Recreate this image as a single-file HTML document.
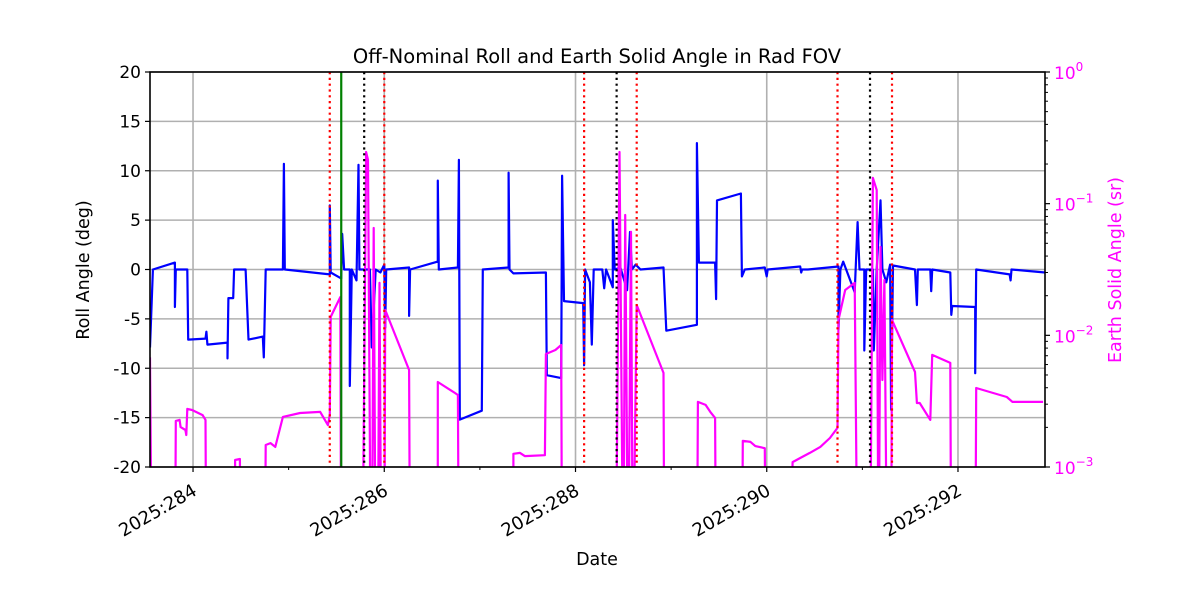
<!DOCTYPE html>
<html><head><meta charset="utf-8"><style>
body{margin:0;background:#fff;}
svg text{font-family:"DejaVu Sans","Liberation Sans",sans-serif;}
</style></head><body>
<svg id="chart" width="1200" height="600" xmlns="http://www.w3.org/2000/svg"></svg>
<script>
const rollDays=[283.55,283.58,283.81,283.81,283.82,283.94,283.95,284.13,284.14,284.15,284.36,284.36,284.37,284.42,284.43,284.55,284.58,284.73,284.74,284.76,284.94,284.95,284.96,285.43,285.43,285.44,285.55,285.56,285.58,285.64,285.64,285.66,285.71,285.73,285.74,285.85,285.87,285.91,285.96,286.00,286.01,286.02,286.26,286.26,286.27,286.56,286.56,286.57,286.77,286.78,286.79,287.02,287.03,287.30,287.30,287.31,287.35,287.69,287.70,287.85,287.86,287.88,288.08,288.09,288.10,288.15,288.17,288.19,288.28,288.30,288.32,288.39,288.39,288.41,288.47,288.54,288.57,288.59,288.63,288.68,288.92,288.95,289.27,289.27,289.29,289.46,289.47,289.48,289.73,289.74,289.77,289.98,290.00,290.01,290.35,290.36,290.37,290.43,290.75,290.75,290.77,290.80,290.92,290.95,290.97,291.02,291.02,291.04,291.11,291.12,291.15,291.19,291.21,291.25,291.29,291.30,291.32,291.55,291.57,291.58,291.71,291.72,291.73,291.92,291.93,291.94,292.18,292.18,292.19,292.54,292.55,292.56,292.91];
const rollDeg=[-7.9,0,0.7,-3.8,0,0,-7.1,-7.0,-6.3,-7.6,-7.4,-9.0,-2.9,-2.9,0,0,-7.1,-6.8,-8.9,0,0,10.7,0,-0.5,6.5,-0.3,-0.9,3.6,0,0,-11.8,0,-1.1,10.6,0,0,-7.9,0,-0.3,0.5,-5.9,0,0.2,-4.7,0,0.8,9.0,0,0.2,11.1,-15.2,-14.3,0,0.2,9.8,0,-0.4,-0.3,-10.7,-11.0,9.5,-3.2,-3.4,-9.7,0,-1.3,-7.6,0,0,-1.9,0,-1.8,5.0,0,0.2,-2.1,3.8,0,0.5,0,0.2,-6.2,-5.6,12.8,0.7,0.7,-3.0,7.0,7.7,-0.7,0,0.2,-0.7,0,0.3,-0.3,0,0,0.3,-6.1,0,0.8,-2.3,4.8,0,0,-8.2,0,0,-8.2,0,7.0,0,-1.3,0.5,-14.2,0.4,0,-3.6,0,0,-2.2,0,-0.3,-4.6,-3.7,-3.8,-10.5,0,-0.5,-1.1,0,-0.3];
const earthDays=[283.55,283.57,283.81,283.82,283.86,283.87,283.92,283.93,283.94,283.99,284.10,284.13,284.14,284.44,284.44,284.49,284.50,284.75,284.76,284.81,284.86,284.94,285.12,285.33,285.41,285.43,285.44,285.54,285.55,285.77,285.81,285.83,285.86,285.87,285.89,285.91,285.93,285.95,285.97,286.00,286.01,286.26,286.27,286.56,286.56,286.69,286.74,286.77,286.78,287.35,287.35,287.42,287.47,287.68,287.69,287.79,287.85,287.86,288.42,288.46,288.50,288.52,288.55,288.58,288.60,288.64,288.92,288.93,289.27,289.28,289.36,289.41,289.46,289.47,289.74,289.75,289.83,289.88,289.98,289.99,290.24,290.27,290.35,290.45,290.56,290.66,290.74,290.75,290.82,290.92,290.95,291.08,291.11,291.15,291.17,291.19,291.21,291.23,291.26,291.30,291.31,291.55,291.57,291.60,291.71,291.73,291.92,291.93,292.18,292.19,292.51,292.57,292.89];
const earthSr=[0.0068,1e-4,1e-4,0.00224,0.00228,0.00201,0.00191,0.00175,0.00276,0.00271,0.00248,0.00228,1e-4,1e-4,0.00113,0.00115,1e-4,1e-4,0.00147,0.00152,0.00142,0.0024,0.00257,0.00262,0.00208,0.00248,0.0138,0.0195,1e-4,1e-4,0.247,0.215,1e-4,1e-4,0.0653,1e-4,1e-4,0.025,1e-4,1e-4,0.0156,0.00545,1e-4,1e-4,0.00442,0.00385,0.00365,0.00352,1e-4,1e-4,0.00126,0.00128,0.00121,0.00123,0.00722,0.00774,0.00845,1e-4,1e-4,0.247,1e-4,0.082,1e-4,0.061,1e-4,0.017,0.00518,1e-4,1e-4,0.00312,0.00296,0.00262,0.00236,1e-4,1e-4,0.00158,0.00155,0.00144,0.00139,1e-4,1e-4,0.00109,0.00117,0.00128,0.00142,0.00166,0.00198,0.0131,0.0221,0.025,1e-4,1e-4,0.157,0.127,1e-4,0.0469,0.00458,0.0263,1e-4,1e-4,0.0131,0.00527,0.00306,0.00306,0.00228,0.0071,0.00617,1e-4,1e-4,0.00398,0.0034,0.00312,0.00312];
const redLines=[285.43,286.00,288.09,288.64,290.74,291.31];
const blackLines=[285.79,288.43,291.08];
const greenLines=[285.55];
const xTickDays=[284,286,288,290,292];
const xTickLabels=["2025:284","2025:286","2025:288","2025:290","2025:292"];
const xMinorDays=[285,287,289,291];
const yTicks=[20,15,10,5,0,-5,-10,-15,-20];
const rightExps=[0,-1,-2,-3];

const L=150,R=1045,T=72,B=467;
const X0=283.55,X1=292.91;
const xs=d=>L+(d-X0)/(X1-X0)*(R-L);
const ys=v=>B-(v+20)/40*(B-T);
const yr=v=>T+(-Math.log10(v))/3*(B-T);
const NS="http://www.w3.org/2000/svg";
const svg=document.getElementById('chart');
function mk(tag,attrs,parent){const e=document.createElementNS(NS,tag);for(const k in attrs)e.setAttribute(k,attrs[k]);(parent||svg).appendChild(e);return e;}

const defs=mk('defs',{});
const cp=mk('clipPath',{id:'plotclip'},defs);
mk('rect',{x:L,y:T,width:R-L,height:B-T},cp);

const grid=mk('g',{});


yTicks.forEach(v=>{mk('line',{x1:L,x2:R,y1:ys(v),y2:ys(v),stroke:'#b0b0b0','stroke-width':1.6},grid);});
xTickDays.forEach(d=>{mk('line',{x1:xs(d),x2:xs(d),y1:T,y2:B,stroke:'#b0b0b0','stroke-width':1.6},grid);});

const plot=mk('g',{'clip-path':'url(#plotclip)'});
function pathFrom(dx,dy,f){return dx.map((d,i)=>(i?'L':'M')+xs(d).toFixed(1)+' '+f(dy[i]).toFixed(1)).join(' ');}
const roll=mk('path',{d:pathFrom(rollDays,rollDeg,ys),fill:'none',stroke:'#0000ff','stroke-width':2.2,'stroke-linejoin':'round'},plot);


const earth=mk('path',{d:pathFrom(earthDays,earthSr,yr),fill:'none',stroke:'#ff00ff','stroke-width':2.2,'stroke-linejoin':'round'},plot);


redLines.forEach(d=>{const l=mk('line',{x1:xs(d),x2:xs(d),y1:T,y2:B,stroke:'#ff0000','stroke-width':2.2,'stroke-dasharray':'2.2 3.6'},plot);

});
blackLines.forEach(d=>{const l=mk('line',{x1:xs(d),x2:xs(d),y1:T,y2:B,stroke:'#000','stroke-width':2.2,'stroke-dasharray':'2.2 3.6'},plot);

});
greenLines.forEach(d=>{const l=mk('line',{x1:xs(d),x2:xs(d),y1:T,y2:B,stroke:'#008000','stroke-width':2.2},plot);

});

const fr=mk('rect',{x:L,y:T,width:R-L,height:B-T,fill:'none',stroke:'#000','stroke-width':1.6});



yTicks.forEach(v=>{const y=ys(v);mk('line',{x1:L-5,x2:L,y1:y,y2:y,stroke:'#000','stroke-width':1.2});
const t=mk('text',{x:L-9,y:y+6,'text-anchor':'end','font-size':17,fill:'#000'});t.textContent=v;

});
xTickDays.forEach((d,i)=>{const x=xs(d);mk('line',{x1:x,x2:x,y1:B,y2:B+5,stroke:'#000','stroke-width':1.2});
const ax=x+5,ay=B+27;
const t=mk('text',{x:ax,y:ay,'text-anchor':'end','font-size':18,fill:'#000',transform:`rotate(-30 ${ax} ${ay})`});t.textContent=xTickLabels[i];

});
xMinorDays.forEach(d=>{mk('line',{x1:xs(d),x2:xs(d),y1:B,y2:B+3,stroke:'#000','stroke-width':1});});
rightExps.forEach(e=>{const y=yr(Math.pow(10,e));mk('line',{x1:R,x2:R+5,y1:y,y2:y,stroke:'#000','stroke-width':1.2});
const t=mk('text',{x:R+9,y:y+7,'font-size':17,fill:'#ff00ff'});


const a=mk('tspan',{},t);a.textContent='10';const b=mk('tspan',{dy:-8,'font-size':12},t);b.textContent=String(e).replace('-','−');
if(e>-3){for(let m=2;m<10;m++){const yy=yr(m*Math.pow(10,e-1));mk('line',{x1:R,x2:R+3,y1:yy,y2:yy,stroke:'#000','stroke-width':1});}}});

function label(txt,attrs,name){const t=mk('text',attrs);t.textContent=txt;

}
label('Off-Nominal Roll and Earth Solid Angle in Rad FOV',{x:597,y:63,'text-anchor':'middle','font-size':19.5,fill:'#000'},'chart-title');
label('Date',{x:597,y:565,'text-anchor':'middle','font-size':17.5,fill:'#000'},'x-axis-title');
label('Roll Angle (deg)',{x:89,y:270,'text-anchor':'middle','font-size':17.5,fill:'#000',transform:'rotate(-90 89 270)'},'y-axis-title');
label('Earth Solid Angle (sr)',{x:1121,y:270,'text-anchor':'middle','font-size':17.5,fill:'#ff00ff',transform:'rotate(-90 1121 270)'},'right-y-axis-title');
</script>
</body></html>
